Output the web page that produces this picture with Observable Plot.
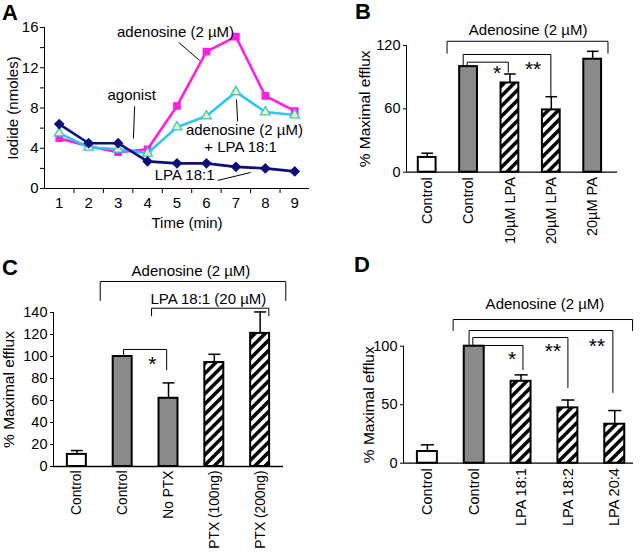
<!DOCTYPE html>
<html>
<head>
<meta charset="utf-8">
<script src="https://cdn.jsdelivr.net/npm/d3@7"></script>
<script src="https://cdn.jsdelivr.net/npm/@observablehq/plot@0.6"></script>
<style>
  html, body { margin: 0; padding: 0; background: #fff; }
  #root { position: relative; width: 640px; height: 555px; overflow: hidden; background: #fff;
          font-family: "Liberation Sans", Arial, sans-serif; }
  .panel { position: absolute; }
  #letters { position: absolute; left: 0; top: 0; pointer-events: none; }
</style>
</head>
<body>
<svg width="0" height="0" style="position:absolute">
  <defs>
    <pattern id="hatch" patternUnits="userSpaceOnUse" width="7.2" height="7.2" patternTransform="rotate(45)">
      <rect width="7.2" height="7.2" fill="white"></rect>
      <rect width="3.5" height="7.2" fill="black"></rect>
    </pattern>
  </defs>
</svg>
<div id="root"></div>
<script>
// ---------- Panel A data ----------
const timeMin = [1, 2, 3, 4, 5, 6, 7, 8, 9];
const adenosine = [5.0, 4.2, 3.6, 3.9, 8.2, 13.6, 15.1, 9.2, 7.7];
const adenosineLPA = [5.5, 4.1, 3.9, 3.5, 6.1, 7.2, 9.6, 7.6, 7.3];
const lpa181 = [6.4, 4.5, 4.5, 2.7, 2.5, 2.5, 2.15, 2.0, 1.7];
const aTicks = [0, 2, 4, 6, 8, 10, 12, 14, 16];

// ---------- Panel B data ----------
const bCategories = ["Control", "Control", "10µM LPA", "20µM LPA", "20µM PA"];
const bValues = [14, 100, 84.5, 59, 107];
const bErrors = [4, 0, 8.5, 12.5, 7.5];
const bKinds = ["open", "gray", "hatch", "hatch", "gray"];
const bTicks = [0, 60, 120];

// ---------- Panel C data ----------
const cCategories = ["Control", "Control", "No PTX", "PTX (100ng)", "PTX (200ng)"];
const cValues = [11, 100, 62, 94.5, 121];
const cErrors = [3.5, 0, 14, 7.5, 19.5];
const cKinds = ["open", "gray", "gray", "hatch", "hatch"];
const cTicks = [0, 20, 40, 60, 80, 100, 120, 140];

// ---------- Panel D data ----------
const dCategories = ["Control", "Control", "LPA 18:1", "LPA 18:2", "LPA 20:4"];
const dValues = [10, 100, 70, 47.3, 33.3];
const dErrors = [5.7, 0, 5.5, 6.7, 11.7];
const dKinds = ["open", "gray", "hatch", "hatch", "hatch"];
const dTicks = [0, 50, 100];

const FONT = "'Liberation Sans', Arial, sans-serif";
const root = document.getElementById("root");
function place(el, left, top) {
  const d = document.createElement("div");
  d.className = "panel";
  d.style.left = left + "px";
  d.style.top = top + "px";
  d.appendChild(el);
  root.appendChild(d);
}
const baseStyle = {fontFamily: FONT, background: "transparent", overflow: "visible", color: "black"};

// ---------- Panel A ----------
const magenta = "#ff1fe0", cyan = "#2cc6f4", navy = "#0e0e7a";
const series = [
  {values: adenosine, color: magenta, symbol: "square", fill: magenta, r: 3.6},
  {values: adenosineLPA, color: cyan, symbol: "triangle", fill: "#f2f29a", r: 3.6},
  {values: lpa181, color: navy, symbol: "diamond2", fill: navy, r: 4}
];
const plotA = Plot.plot({
  width: 320, height: 235,
  marginLeft: 44, marginRight: 11, marginTop: 27, marginBottom: 47,
  style: baseStyle,
  x: {type: "linear", domain: [0.5, 9.5]},
  y: {domain: [0, 16]},
  marks: [
    Plot.ruleY([0], {strokeWidth: 1}),
    Plot.ruleX([0.5], {strokeWidth: 1}),
    Plot.axisY({ticks: aTicks, tickFormat: d => d % 4 === 0 ? d : "", tickSize: 4, tickPadding: 2, fontSize: 15, label: null}),
    Plot.axisX({ticks: timeMin, tickSize: 0, tickPadding: 9, fontSize: 15, label: null}),
    Plot.axisX({ticks: timeMin.slice(0, -1).map(t => t + 0.5), tickSize: 5, tickFormat: () => "", label: null}),
    ...series.flatMap(s => [
      Plot.line(timeMin, {x: t => t, y: (t, i) => s.values[i], stroke: s.color, strokeWidth: 2.6}),
      Plot.dot(timeMin, {x: t => t, y: (t, i) => s.values[i], symbol: s.symbol, fill: s.fill, stroke: s.color, strokeWidth: 1.3, r: s.r})
    ]),
    Plot.text(["Time (min)"], {frameAnchor: "bottom", lineAnchor: "middle", dy: 35, dx: 10, fontSize: 15}),
    Plot.text(["Iodide (nmoles)"], {frameAnchor: "left", rotate: -90, dx: -31, textAnchor: "middle", lineAnchor: "middle", fontSize: 15}),
    // annotations
    Plot.text([
      {x: 4.95, y: 15.5, t: "adenosine (2 µM)"},
      {x: 3.46, y: 9.24, t: "agonist"},
      {x: 7.29, y: 5.77, t: "adenosine (2 µM)"},
      {x: 7.16, y: 4.08, t: "+ LPA 18:1"},
      {x: 5.26, y: 1.29, t: "LPA 18:1"}
    ], {x: "x", y: "y", text: "t", fontSize: 15}),
    Plot.link([
      {x1: 5.06, y1: 14.51, x2: 5.77, y2: 12.72},
      {x1: 3.56, y1: 8.15, x2: 3.52, y2: 4.97},
      {x1: 7.02, y1: 8.85, x2: 7.06, y2: 6.66},
      {x1: 6.38, y1: 0.8, x2: 7.5, y2: 1.59}
    ], {x1: "x1", y1: "y1", x2: "x2", y2: "y2", stroke: "black", strokeWidth: 1})
  ]
});
place(plotA, 0, 0);

// ---------- Bar panels ----------
function barPanel(o) {
  const idx = d3.range(o.cats.length);
  const top = i => o.vals[i] + o.errs[i];
  const fills = {open: "white", gray: "#8a8a8a", hatch: "url(#hatch)"};
  const bracketPts = o.brackets.flatMap((b, k) => b.map(([x, y]) => ({x, y, k})));
  return Plot.plot({
    width: o.width, height: o.height,
    marginLeft: o.ml, marginRight: o.mr, marginTop: o.mt, marginBottom: o.mb,
    style: baseStyle,
    x: {type: "linear", domain: o.xDomain},
    y: {domain: o.yDomain},
    marks: [
      Plot.ruleX([o.xDomain[0]], {strokeWidth: 1}),
      ...Object.keys(fills).map(k => Plot.rect(idx, {
        filter: i => o.kinds[i] === k,
        x1: i => i - o.barHalf, x2: i => i + o.barHalf,
        y1: () => 0, y2: i => o.vals[i],
        fill: fills[k], stroke: "black", strokeWidth: 2
      })),
      Plot.ruleY([0], {strokeWidth: 1.3}),
      Plot.ruleX(idx, {filter: i => o.errs[i] > 0, x: i => i, y1: i => o.vals[i], y2: top, stroke: "black", strokeWidth: 1.5}),
      Plot.link(idx, {filter: i => o.errs[i] > 0, x1: i => i - o.capHalf, x2: i => i + o.capHalf, y1: top, y2: top, stroke: "black", strokeWidth: 1.5}),
      Plot.axisY({ticks: o.yTicks, tickSize: 3, tickPadding: 3, fontSize: 14.5, label: null}),
      Plot.axisX({ticks: idx, tickFormat: i => o.cats[i], tickRotate: -90, tickSize: 0, tickPadding: o.catPad, fontSize: o.catSize, label: null}),
      Plot.text(["% Maximal efflux"], {frameAnchor: "left", rotate: -90, dx: o.labelDx, textAnchor: "middle", lineAnchor: "middle", fontSize: 15.5}),
      Plot.line(bracketPts, {x: "x", y: "y", z: "k", stroke: "black", strokeWidth: 1}),
      Plot.text(o.labels, {x: "x", y: "y", text: "t", fontSize: 15}),
      Plot.text(o.stars, {x: "x", y: "y", text: "t", fontSize: 21})
    ]
  });
}

const plotB = barPanel({
  cats: bCategories, vals: bValues, errs: bErrors, kinds: bKinds, yTicks: bTicks,
  width: 320, height: 290, ml: 86, mr: 23, mt: 45, mb: 118.3, catSize: 14.5, catPad: 5,
  xDomain: [-0.5, 4.6], yDomain: [0, 120], barHalf: 0.215, capHalf: 0.14, labelDx: -41,
  brackets: [
    [[0.48, 112.7], [0.48, 124], [4.37, 124], [4.37, 112.7]],
    [[0.87, 100], [0.87, 111.5], [2.99, 111.5], [2.99, 72.6]],
    [[0.966, 100], [0.966, 104.2], [1.96, 104.2], [1.96, 94.7]]
  ],
  labels: [{x: 2.44, y: 134.2, t: "Adenosine (2 µM)"}],
  stars: [{x: 1.69, y: 93.5, t: "*"}, {x: 2.56, y: 97.3, t: "**"}]
});
place(plotB, 320, 0);

const plotC = barPanel({
  cats: cCategories, vals: cValues, errs: cErrors, kinds: cKinds, yTicks: cTicks,
  width: 320, height: 305, ml: 53, mr: 37, mt: 62, mb: 89, catSize: 13.8, catPad: 4,
  xDomain: [-0.51, 4.51], yDomain: [0, 140], barHalf: 0.207, capHalf: 0.13, labelDx: -44,
  brackets: [
    [[0.51, 150.9], [0.51, 168.2], [4.56, 168.2], [4.56, 150.9]],
    [[1.63, 137], [1.63, 143.9], [4.19, 143.9], [4.19, 137]],
    [[1.02, 100], [1.02, 106.4], [1.96, 106.4], [1.96, 88]]
  ],
  labels: [{x: 2.49, y: 178, t: "Adenosine (2 µM)"}, {x: 2.87, y: 151.8, t: "LPA 18:1 (20 µM)"}],
  stars: [{x: 1.65, y: 92.6, t: "*"}]
});
place(plotC, 0, 250);

const plotD = barPanel({
  cats: dCategories, vals: dValues, errs: dErrors, kinds: dKinds, yTicks: dTicks,
  width: 320, height: 275, ml: 83, mr: 7, mt: 65.7, mb: 92.3, catSize: 14.5, catPad: 5,
  xDomain: [-0.51, 4.4], yDomain: [0, 100], barHalf: 0.213, capHalf: 0.14, labelDx: -34,
  brackets: [
    [[0.55, 113.4], [0.55, 122.8], [4.38, 122.8], [4.38, 113.4]],
    [[0.89, 100], [0.89, 113.4], [3.96, 113.4], [3.96, 60.5]],
    [[0.97, 100], [0.97, 107.4], [3.0, 107.4], [3.0, 64.7]],
    [[1.21, 100.6], [2.04, 100.6], [2.04, 80]]
  ],
  labels: [{x: 2.51, y: 135.6, t: "Adenosine (2 µM)"}],
  stars: [{x: 1.81, y: 88.6, t: "*"}, {x: 2.68, y: 95.5, t: "**"}, {x: 3.62, y: 99.7, t: "**"}]
});
place(plotD, 320, 280);

// ---------- Panel letters ----------
const ns = "http://www.w3.org/2000/svg";
const letters = document.createElementNS(ns, "svg");
letters.setAttribute("id", "letters");
letters.setAttribute("width", 640);
letters.setAttribute("height", 555);
[["A", 2, 20], ["B", 355, 19], ["C", 2, 275], ["D", 354, 272]].forEach(([t, x, y]) => {
  const el = document.createElementNS(ns, "text");
  el.setAttribute("x", x);
  el.setAttribute("y", y);
  el.setAttribute("font-family", "Liberation Sans, Arial, sans-serif");
  el.setAttribute("font-weight", "bold");
  el.setAttribute("font-size", 22);
  el.textContent = t;
  letters.appendChild(el);
});
root.appendChild(letters);
</script>
</body>
</html>
